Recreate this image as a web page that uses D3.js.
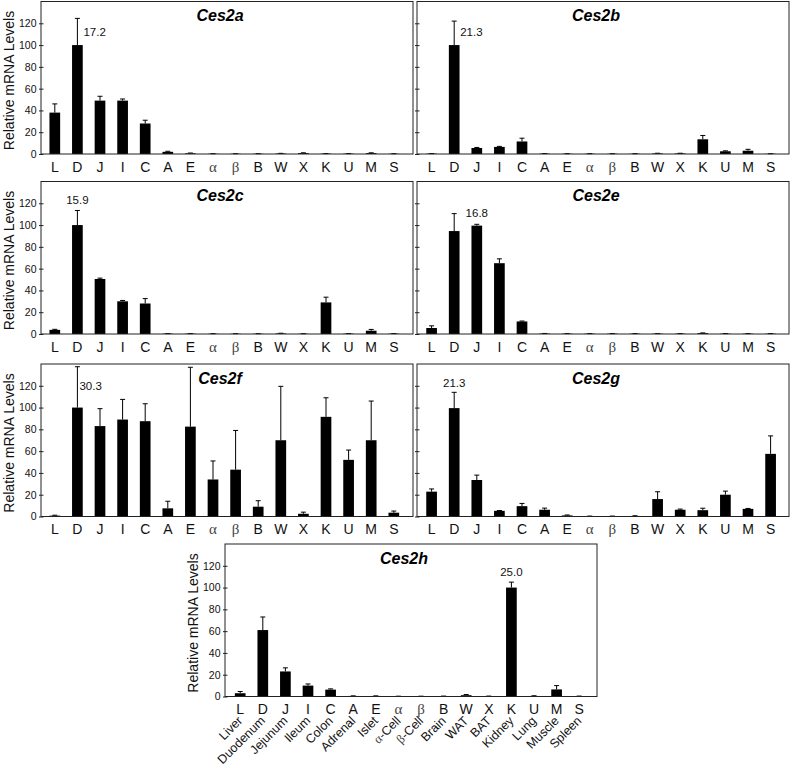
<!DOCTYPE html>
<html><head><meta charset="utf-8">
<script src="https://cdn.jsdelivr.net/npm/d3@7"></script>
<style>body{margin:0;background:#fff}</style>
</head><body><svg id="chart" width="791" height="767"></svg>
<script>
// ---------- data ----------
const categories = ["L","D","J","I","C","A","E","α","β","B","W","X","K","U","M","S"];
const tissues = ["Liver","Duodenum","Jejunum","Ileum","Colon","Adrenal","Islet","α-Cell","β-Cell","Brain","WAT","BAT","Kidney","Lung","Muscle","Spleen"];
const yTicks = [0,20,40,60,80,100,120];
const genes = ["Ces2a","Ces2b","Ces2c","Ces2e","Ces2f","Ces2g","Ces2h"];

const ces2aMean = [38, 100, 49, 49, 28, 2, 0.6, 0.2, 0.2, 0.2, 0.4, 0.8, 0.3, 0.3, 0.8, 0.2];
const ces2aSd   = [8, 24.5, 4, 1.5, 3, 0.5, 0.3, 0.1, 0.1, 0.1, 0.2, 0.3, 0.1, 0.1, 0.3, 0.1];
const ces2bMean = [0.3, 100, 5.5, 6.5, 11.5, 0.3, 0.2, 0.2, 0.2, 0.2, 0.5, 0.5, 13.5, 2.5, 3, 0.2];
const ces2bSd   = [0.1, 22, 0.5, 0.5, 3, 0.1, 0.1, 0.1, 0.1, 0.1, 0.2, 0.2, 3.5, 0.4, 1.3, 0.1];
const ces2cMean = [3.8, 100, 50.5, 30, 28, 0.3, 0.3, 0.2, 0.2, 0.2, 0.5, 0.2, 29, 0.3, 3, 0.3];
const ces2cSd   = [0.5, 13.4, 0.8, 0.8, 4.5, 0.1, 0.1, 0.1, 0.1, 0.1, 0.2, 0.1, 4.8, 0.1, 1.2, 0.1];
const ces2eMean = [5.5, 94.5, 99.5, 65, 11.5, 0.4, 0.3, 0.3, 0.3, 0.3, 0.3, 0.3, 0.8, 0.3, 0.3, 0.3];
const ces2eSd   = [2, 16, 1.2, 4, 0.4, 0.1, 0.1, 0.1, 0.1, 0.1, 0.1, 0.1, 0.2, 0.1, 0.1, 0.1];
const ces2fMean = [0.8, 100, 83, 89, 87.5, 7.5, 82.5, 34, 43, 9, 70, 2.5, 91.5, 52, 70, 3.5];
const ces2fSd   = [0.4, 37.5, 16, 18.5, 16, 6.5, 54.5, 17, 36, 5.5, 49.5, 1.5, 17.5, 9, 36, 1.5];
const ces2gMean = [22.8, 99.5, 33.5, 5.2, 9.5, 6.2, 1, 0.3, 0.3, 0.5, 16, 6.2, 5.8, 20, 7, 57.5];
const ces2gSd   = [2.5, 14.5, 4.5, 0.3, 2.5, 1.5, 0.4, 0.1, 0.1, 0.2, 6.7, 0.6, 1.8, 3.3, 0.4, 16.5];
const ces2hMean = [3, 61, 23, 10, 6.3, 0.5, 0.5, 0.2, 0.2, 0.3, 1.2, 0.3, 100, 0.5, 6.5, 0.3];
const ces2hSd   = [1.6, 12, 3.3, 1.5, 0.7, 0.1, 0.1, 0.1, 0.1, 0.1, 0.6, 0.1, 5, 0.2, 3.5, 0.1];

const noteTexts  = ["17.2","21.3","15.9","16.8","30.3","21.3","25.0"];
const noteCats   = ["D","D","D","J","D","D","K"];
const noteValues = [108, 108, 119, 107, 116, 119, 111];

const means = [ces2aMean, ces2bMean, ces2cMean, ces2eMean, ces2fMean, ces2gMean, ces2hMean];
const sds   = [ces2aSd, ces2bSd, ces2cSd, ces2eSd, ces2fSd, ces2gSd, ces2hSd];

// ---------- layout ----------
const layout = [
  {x0: 41,  y0: 1.5,  first: 13.8, yLabel: true,  noteDx: 6,  anchor: "start"},
  {x0: 417, y0: 1.5,  first: 14.6, yLabel: false, noteDx: 6,  anchor: "start"},
  {x0: 41,  y0: 181.5,first: 13.8, yLabel: true,  noteDx: 0,  anchor: "middle"},
  {x0: 417, y0: 181.5,first: 14.6, yLabel: false, noteDx: 0,  anchor: "middle"},
  {x0: 41,  y0: 364,  first: 13.8, yLabel: true,  noteDx: 2,  anchor: "start"},
  {x0: 417, y0: 364,  first: 14.6, yLabel: false, noteDx: 0,  anchor: "middle"},
  {x0: 225, y0: 544,  first: 15.2, yLabel: true,  noteDx: 0,  anchor: "middle", tissues: true}
];
const PW = 372, PH = 152.5, STEP = 22.6;
const SANS = "'Liberation Sans', Arial, Helvetica, sans-serif";
const SERIF = "'Liberation Serif', 'Times New Roman', serif";

const svg = d3.select("#chart");

genes.forEach((g, gi) => {
  const L = layout[gi];
  const axisY = L.y0 + PH;
  const start = L.x0 + L.first - STEP / 2;
  const x = d3.scaleBand().domain(categories)
    .range([start, start + STEP * categories.length])
    .paddingInner(0.527).paddingOuter(0.2635);
  const y = d3.scaleLinear().domain([0, 140]).range([axisY, L.y0]);
  const cx = c => x(c) + x.bandwidth() / 2;
  const gEl = svg.append("g");

  // bars
  gEl.selectAll("rect.bar").data(categories).join("rect")
    .attr("x", c => x(c)).attr("width", x.bandwidth())
    .attr("y", (c, i) => y(means[gi][i]))
    .attr("height", (c, i) => axisY - y(means[gi][i]))
    .attr("fill", "#000");

  // error bars
  const eb = gEl.selectAll("g.err").data(categories).join("g");
  eb.append("line")
    .attr("x1", c => cx(c)).attr("x2", c => cx(c))
    .attr("y1", (c, i) => y(means[gi][i]))
    .attr("y2", (c, i) => y(means[gi][i] + sds[gi][i]))
    .attr("stroke", "#000").attr("stroke-width", 1);
  eb.append("line")
    .attr("x1", c => cx(c) - 2.5).attr("x2", c => cx(c) + 2.5)
    .attr("y1", (c, i) => y(means[gi][i] + sds[gi][i]))
    .attr("y2", (c, i) => y(means[gi][i] + sds[gi][i]))
    .attr("stroke", "#000").attr("stroke-width", 1);

  // frame
  gEl.append("rect").attr("x", L.x0).attr("y", L.y0)
    .attr("width", PW).attr("height", PH)
    .attr("fill", "none").attr("stroke", "#222").attr("stroke-width", 1);

  // y axis
  const ax = d3.axisLeft(y).tickValues(yTicks).tickSizeInner(2).tickSizeOuter(0).tickPadding(2.5);
  if (!L.yLabel) ax.tickFormat("");
  const axG = gEl.append("g").attr("transform", `translate(${L.x0},0)`).call(ax);
  axG.select(".domain").remove();
  axG.selectAll(".tick line").attr("x1", 2.5).attr("x2", -2).attr("stroke", "#222");
  axG.selectAll(".tick text").attr("font-family", SANS).attr("font-size", 10.5).attr("fill", "#111");

  // category letters
  gEl.selectAll("text.cat").data(categories).join("text")
    .attr("x", c => cx(c)).attr("y", axisY + 17.5)
    .attr("text-anchor", "middle")
    .attr("font-family", c => (c === "α" || c === "β") ? SERIF : SANS)
    .attr("font-size", c => (c === "α" || c === "β") ? 15 : 14)
    .attr("fill", c => (c === "α" || c === "β") ? "#444" : "#111")
    .text(c => c);

  // title
  gEl.append("text").attr("x", L.x0 + 179).attr("y", L.y0 + 19.5)
    .attr("text-anchor", "middle").attr("font-family", SANS)
    .attr("font-weight", "bold").attr("font-style", "italic")
    .attr("font-size", 16).attr("fill", "#000").text(g);

  // annotation
  gEl.append("text")
    .attr("x", cx(noteCats[gi]) + L.noteDx).attr("y", y(noteValues[gi]))
    .attr("text-anchor", L.anchor).attr("font-family", SANS)
    .attr("font-size", 11.5).attr("fill", "#111").text(noteTexts[gi]);

  // y label
  if (L.yLabel) {
    gEl.append("text")
      .attr("transform", `translate(${L.x0 - 27.5},${L.y0 + 79}) rotate(-90)`)
      .attr("text-anchor", "middle").attr("font-family", SANS)
      .attr("font-size", 14).attr("fill", "#111")
      .text("Relative mRNA Levels");
  }

  // tissue names
  if (L.tissues) {
    const tt = gEl.selectAll("text.tis").data(categories).join("text")
      .attr("transform", c => `translate(${cx(c) + 3},${axisY + 25}) rotate(-45)`)
      .attr("text-anchor", "end").attr("font-family", SANS)
      .attr("font-size", 12.5).attr("fill", "#111");
    tt.each(function(c, i) {
      const name = tissues[i];
      const el = d3.select(this);
      if (name[0] === "α" || name[0] === "β") {
        el.append("tspan").attr("font-family", SERIF).attr("fill", "#444").text(name[0]);
        el.append("tspan").text(name.slice(1));
      } else {
        el.text(name);
      }
    });
  }
});
</script>
</body></html>
